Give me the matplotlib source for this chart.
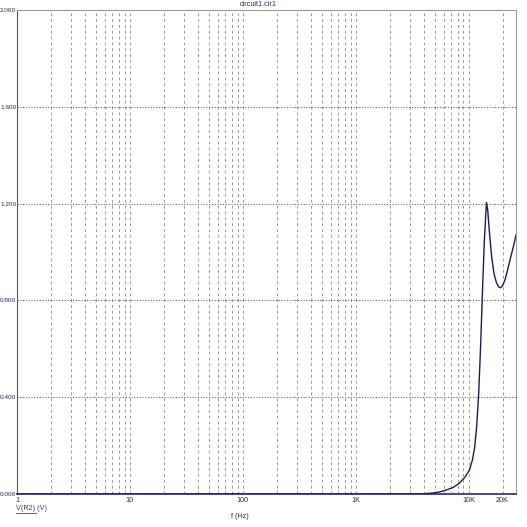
import matplotlib
matplotlib.use("Agg")
import matplotlib.pyplot as plt
import numpy as np

plt.rcParams['font.family'] = ['Liberation Sans', 'DejaVu Sans']

freq = [1, 10, 100, 1000, 3000, 4000, 4800, 5600, 6300, 7300, 8300, 9300,
        10200, 10800, 11300, 11800, 12300, 12800, 13300, 13800, 14400, 14800,
        15300, 16000, 16800, 17600, 18400, 19100, 20000, 21000, 22000, 23500,
        25000, 26300]
vr2 = [0, 0, 0, 0, 0.0, 0.001, 0.004, 0.009, 0.016, 0.027, 0.045, 0.07,
       0.10, 0.14, 0.19, 0.28, 0.42, 0.62, 0.85, 1.05, 1.205, 1.17,
       1.08, 0.98, 0.91, 0.875, 0.857, 0.852, 0.86, 0.885, 0.92, 0.975,
       1.025, 1.07]

y_ticks = [0.0, 0.4, 0.8, 1.2, 1.6, 2.0]
y_tick_labels = ["0.000", "0.400", "0.800", "1.200", "1.600", "2.000"]
x_ticks = [1, 10, 100, 1000, 10000, 20000]
x_tick_labels = ["1", "10", "100", "1K", "10K", "20K"]

fig = plt.figure(figsize=(5.27, 5.27), dpi=100)
ax = fig.add_axes([17/527, 33/527, 499/527, 484/527])
ax.set_xscale('log')
ax.set_xlim(1, 26300)
ax.set_ylim(0, 2.0)

# vertical grid lines (minor and major)
for dec in [1, 10, 100, 1000]:
    for m in range(2, 11):
        ax.axvline(dec * m, color='#9a9a9a', lw=0.7, ls=(0, (3, 3)), zorder=1)
ax.axvline(20000, color='#9a9a9a', lw=0.7, ls=(0, (3, 3)), zorder=1)
for yv in y_ticks[1:-1]:
    ax.axhline(yv, color='#666666', lw=0.8, ls=(0, (1, 1.5)), zorder=1)

ax.plot(freq, vr2, color='#1c1c5a', lw=1.0, zorder=3)

ax.set_xticks(x_ticks)
ax.set_xticklabels(x_tick_labels)
ax.set_xticks([], minor=True)
ax.set_yticks(y_ticks)
ax.set_yticklabels(y_tick_labels)
ax.tick_params(axis='x', length=0, labelsize=5.2, labelcolor='#2a2a5a', pad=2)
ax.tick_params(axis='y', length=0, labelsize=4.6, labelcolor='#2a2a5a', pad=0.5)

for s in ['top', 'right']:
    ax.spines[s].set_color('#9a9a9a')
    ax.spines[s].set_linewidth(0.8)
ax.spines['left'].set_color('#55557a')
ax.spines['left'].set_linewidth(0.8)
ax.spines['bottom'].set_color('#2a2a6a')
ax.spines['bottom'].set_linewidth(1.2)

fig.text(258/527, 1 - 5/527, "circuit1.cir1", ha='center', va='center',
         fontsize=5.2, color='#2a2a5a')
fig.text(240/527, 1 - 517/527, "f (Hz)", ha='center', va='center',
         fontsize=5.2, color='#2a2a5a')
fig.text(16/527, 1 - 509/527, "V(R2) (V)", ha='left', va='center',
         fontsize=5.2, color='#3a3a9a')
fig.add_artist(plt.Line2D([16/527, 36/527], [1 - 513/527, 1 - 513/527],
                          color='#3a3a9a', lw=0.6))

fig.savefig("out.png", dpi=100)
